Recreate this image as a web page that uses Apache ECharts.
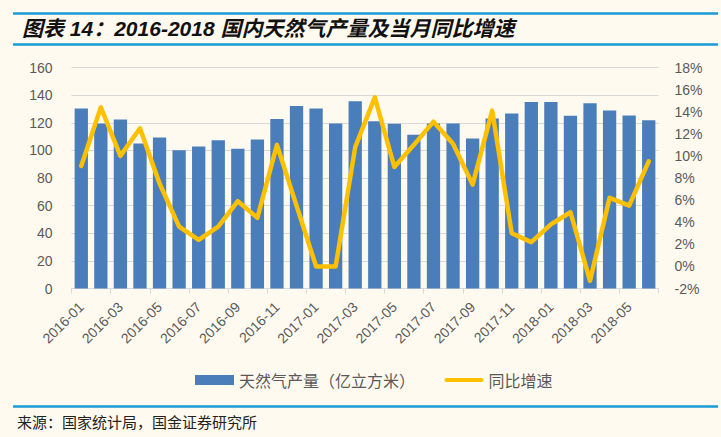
<!DOCTYPE html>
<html>
<head>
<meta charset="utf-8">
<script src="https://cdn.jsdelivr.net/npm/echarts@6/dist/echarts.min.js"></script>
<style>
html,body{margin:0;padding:0;background:#fffaf0;}
#c{width:721px;height:437px;}
</style>
</head>
<body>
<div id="c"></div>
<script>
var months = ['2016-01','2016-02','2016-03','2016-04','2016-05','2016-06','2016-07','2016-08','2016-09','2016-10','2016-11','2016-12',
  '2017-01','2017-02','2017-03','2017-04','2017-05','2017-06','2017-07','2017-08','2017-09','2017-10','2017-11','2017-12',
  '2018-01','2018-02','2018-03','2018-04','2018-05','2018-06'];
var production = [130.3,119.4,122.3,105.0,109.3,100.1,102.8,107.4,101.1,107.9,122.8,132.2,
  130.3,119.4,135.6,121.1,119.3,111.3,119.4,119.4,108.6,123.0,126.7,135.1,
  135.1,125.0,134.2,128.9,125.2,121.9];
var growth = [9.1,14.4,10.0,12.5,7.5,3.6,2.4,3.6,5.9,4.4,11.0,5.5,
  0.0,0.0,10.8,15.3,9.0,11.0,13.1,11.1,7.4,14.1,3.0,2.2,
  3.8,4.9,-1.3,6.2,5.5,9.5];
var leftTicks = {min:0, max:160, step:20};
var rightTicks = {min:-2, max:18, step:2};
var titleText = '图表 14：2016-2018 国内天然气产量及当月同比增速';
var sourceText = '来源：国家统计局，国金证券研究所';
var seriesNames = ['天然气产量（亿立方米）','同比增速'];

var chart = echarts.init(document.getElementById('c'), null, {renderer:'svg'});
var axisFont = 'Liberation Sans, Arial, sans-serif';
chart.setOption({
  backgroundColor:'#fffaf0',
  animation:false,
  title:{
    text:titleText,
    left:17, top:13,
    textStyle:{fontSize:21, fontWeight:'bold', fontStyle:'italic', color:'#111',
      fontFamily:'Liberation Sans, Noto Sans CJK SC, sans-serif'}
  },
  graphic:[
    {type:'line', shape:{x1:13,y1:13.5,x2:718,y2:13.5}, style:{stroke:'#1a9ad6', lineWidth:2.5}},
    {type:'line', shape:{x1:13,y1:44.5,x2:718,y2:44.5}, style:{stroke:'#1a9ad6', lineWidth:2.5}},
    {type:'line', shape:{x1:13,y1:406.5,x2:718,y2:406.5}, style:{stroke:'#1a9ad6', lineWidth:2.5}},
    {type:'text', left:17, top:414, style:{text:sourceText, fontSize:15, fill:'#222',
      fontFamily:'Noto Sans CJK SC, sans-serif'}}
  ],
  legend:{
    left:190, top:367,
    itemGap:8,
    symbolKeepAspect:true,
    textStyle:{fontSize:16, color:'#595959', fontFamily:'Noto Sans CJK SC, sans-serif'},
    data:[
      {name:seriesNames[0], icon:'rect'},
      {name:seriesNames[1], icon:'path://M2,0 L38,0 A2,2 0 0 1 38,4 L2,4 A2,2 0 0 1 2,0 Z', itemStyle:{color:'#ffc000'}}
    ],
    itemWidth:39, itemHeight:10,
    formatter:function(n){ return n === seriesNames[0] ? n + '      ' : n; }
  },
  grid:{left:71.5, right:62.5, top:67.5, bottom:148.5},
  xAxis:{
    type:'category', data:months, boundaryGap:true,
    axisLine:{lineStyle:{color:'#d9d9d9', width:1}},
    axisTick:{show:true, interval:1, length:5, lineStyle:{color:'#d9d9d9'}},
    axisLabel:{interval:1, rotate:45, margin:16, fontSize:14, color:'#595959', fontFamily:axisFont}
  },
  yAxis:[
    {type:'value', min:leftTicks.min, max:leftTicks.max, interval:leftTicks.step,
     axisLine:{show:false}, axisTick:{show:false},
     splitLine:{lineStyle:{color:'#d9d9d9', width:1}},
     axisLabel:{margin:19, fontSize:14, color:'#595959', fontFamily:axisFont}},
    {type:'value', min:rightTicks.min, max:rightTicks.max, interval:rightTicks.step,
     axisLine:{show:false}, axisTick:{show:false}, splitLine:{show:false},
     axisLabel:{margin:16, fontSize:14, color:'#595959', fontFamily:axisFont, formatter:'{value}%'}}
  ],
  series:[
    {name:seriesNames[0], type:'bar', data:production, yAxisIndex:0,
     barCategoryGap:'32%', itemStyle:{color:'#4a7ebb'}},
    {name:seriesNames[1], type:'line', data:growth, yAxisIndex:1,
     symbol:'none', smooth:false,
     lineStyle:{color:'#ffc000', width:4.5, cap:'round', join:'round'},
     itemStyle:{color:'#ffc000'}}
  ]
});
</script>
</body>
</html>
